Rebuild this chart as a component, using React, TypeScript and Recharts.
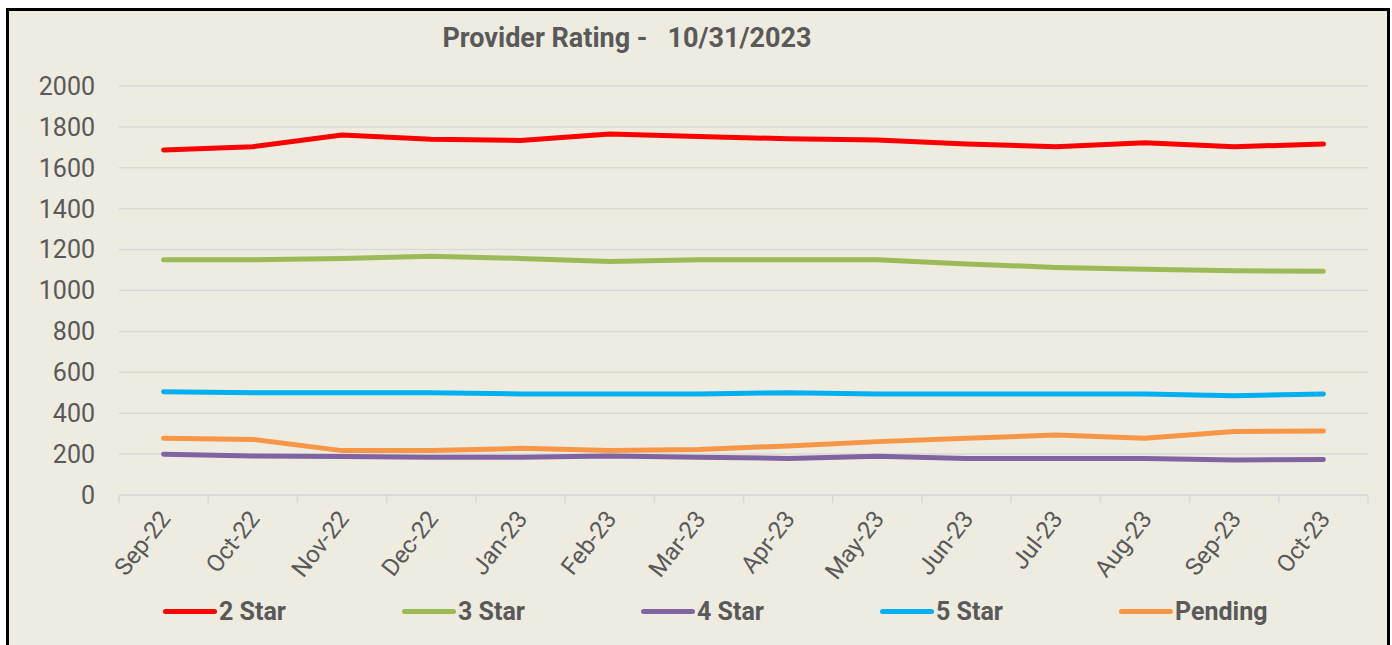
import React from 'react';
import { LineChart, Line, XAxis, YAxis, CartesianGrid, Legend } from 'recharts';

const months = ['Sep-22', 'Oct-22', 'Nov-22', 'Dec-22', 'Jan-23', 'Feb-23', 'Mar-23', 'Apr-23', 'May-23', 'Jun-23', 'Jul-23', 'Aug-23', 'Sep-23', 'Oct-23'];
const twoStar = [1687, 1703, 1760, 1740, 1734, 1765, 1753, 1742, 1736, 1716, 1703, 1722, 1703, 1716];
const threeStar = [1150, 1150, 1157, 1168, 1157, 1142, 1150, 1150, 1150, 1130, 1113, 1104, 1097, 1094];
const fourStar = [199, 191, 188, 185, 185, 191, 184, 179, 190, 179, 179, 179, 171, 174];
const fiveStar = [505, 500, 500, 500, 494, 494, 494, 500, 494, 494, 494, 494, 485, 494];
const pending = [277, 272, 217, 217, 228, 217, 223, 240, 261, 277, 293, 277, 310, 313];
const yTicks = [0, 200, 400, 600, 800, 1000, 1200, 1400, 1600, 1800, 2000];

const series = [
  { key: '2 Star', color: '#FF0000' },
  { key: '3 Star', color: '#9BBB59' },
  { key: '4 Star', color: '#8064A2' },
  { key: '5 Star', color: '#00B0F0' },
  { key: 'Pending', color: '#F79646' },
];

const data = months.map((m, i) => ({
  month: m,
  '2 Star': twoStar[i],
  '3 Star': threeStar[i],
  '4 Star': fourStar[i],
  '5 Star': fiveStar[i],
  Pending: pending[i],
}));

const FONT = 'Roboto, "Noto Sans", sans-serif';
const GRID = '#D9D9D9';
const TEXT = '#595959';
const HALF = 44.6; // half a category step

const MonthTick = (props: any) => {
  const { x, y, payload, index } = props;
  return (
    <g>
      <line x1={x - HALF} x2={x - HALF} y1={y} y2={y + 8} stroke={GRID} strokeWidth={1.5} />
      {index === months.length - 1 && (
        <line x1={x + HALF} x2={x + HALF} y1={y} y2={y + 8} stroke={GRID} strokeWidth={1.5} />
      )}
      <text
        transform={`translate(${x + 8}, ${y + 24}) rotate(-52)`}
        textAnchor="end"
        fontFamily={FONT}
        fontSize={24}
        fill={TEXT}
      >
        {payload.value}
      </text>
    </g>
  );
};

const LegendBox = () => (
  <div style={{ display: 'flex', height: 26, alignItems: 'center', paddingLeft: 163 }}>
    {series.map(s => (
      <div key={s.key} style={{ width: 239, display: 'flex', alignItems: 'center' }}>
        <div style={{ width: 54, height: 5, borderRadius: 3, background: s.color, marginRight: 2 }} />
        <span style={{ fontFamily: FONT, fontWeight: 700, fontSize: 25, color: TEXT }}>{s.key}</span>
      </div>
    ))}
  </div>
);

export default function App() {
  return (
    <div style={{ position: 'absolute', left: 0, top: 0, width: 1392, height: 645, background: '#fff', overflow: 'hidden' }}>
      <div
        style={{
          position: 'absolute', left: 6, top: 8, width: 1378, height: 660,
          borderLeft: '3px solid #000', borderTop: '3px solid #000', borderRight: '3px solid #000',
          background: '#EEEBE0',
        }}
      />
      <div
        style={{
          position: 'absolute', left: 0, top: 22, width: 1254, textAlign: 'center',
          fontFamily: FONT, fontWeight: 700, fontSize: 27, color: TEXT, whiteSpace: 'pre',
        }}
      >
        {'Provider Rating -   10/31/2023'}
      </div>
      <div style={{ position: 'absolute', left: 0, top: 0 }}>
        <LineChart width={1392} height={645} data={data} margin={{ top: 86, right: 24, bottom: 21, left: 0 }}>
          <CartesianGrid vertical={false} stroke={GRID} strokeWidth={1.5} />
          <XAxis
            dataKey="month"
            padding={{ left: HALF, right: HALF }}
            axisLine={{ stroke: GRID, strokeWidth: 1.5 }}
            tickLine={false}
            tickSize={0}
            tickMargin={0}
            height={103}
            interval={0}
            tick={<MonthTick />}
          />
          <YAxis
            domain={[0, 2000]}
            ticks={yTicks}
            width={119}
            axisLine={false}
            tickLine={false}
            tickSize={0}
            tickMargin={24}
            tick={{ fontFamily: FONT, fontSize: 25, fill: TEXT }}
          />
          <Legend verticalAlign="bottom" content={<LegendBox />} wrapperStyle={{ left: 0, width: 1392 }} />
          {series.map(s => (
            <Line
              key={s.key}
              type="linear"
              dataKey={s.key}
              stroke={s.color}
              strokeWidth={5}
              strokeLinecap="round"
              strokeLinejoin="round"
              dot={false}
              activeDot={false}
              isAnimationActive={false}
            />
          ))}
        </LineChart>
      </div>
    </div>
  );
}
